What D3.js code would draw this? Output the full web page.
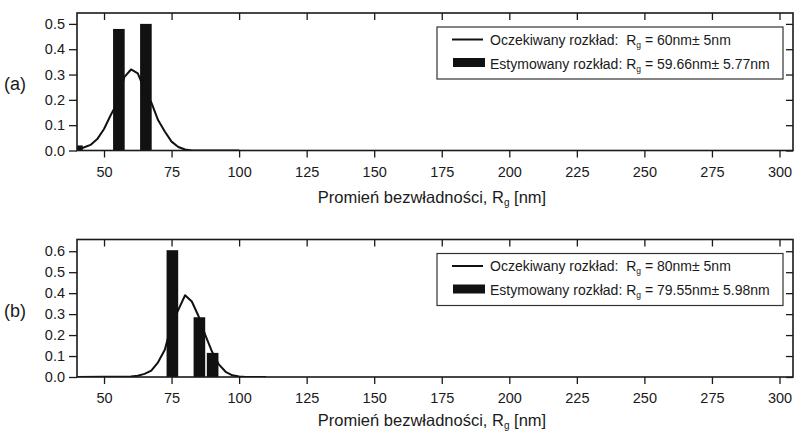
<!DOCTYPE html>
<html>
<head>
<meta charset="utf-8">
<script src="https://cdn.jsdelivr.net/npm/d3@7"></script>
<style>
  body { margin: 0; background: #fff; }
  svg text { font-family: "Liberation Sans", Arial, sans-serif; fill: #1a1a1a; white-space: pre; }
</style>
</head>
<body>
<div id="chart"></div>
<script>
// x axis ticks (shared by both panels)
const xTicks = [50, 75, 100, 125, 150, 175, 200, 225, 250, 275, 300];

// panel (a) data
const barsA_x = [40, 55.5, 65.5];
const barsA_y = [0.02, 0.48, 0.50];
const curveA_x = [40, 42.5, 45, 47.5, 50, 52.5, 55, 57.5, 60, 62.5, 65, 67.5, 70, 72.5, 75, 77.5, 80, 82.5, 100];
const curveA_y = [0.005, 0.012, 0.022, 0.045, 0.085, 0.14, 0.19, 0.29, 0.32, 0.305, 0.24, 0.19, 0.12, 0.075, 0.035, 0.014, 0.004, 0, 0];
const yTicksA = [0.0, 0.1, 0.2, 0.3, 0.4, 0.5];

// panel (b) data
const barsB_x = [75.3, 85.3, 90.2];
const barsB_y = [0.605, 0.285, 0.115];
const curveB_x = [40, 60, 62.5, 65, 67.5, 70, 72.5, 75, 77.5, 80, 82.5, 85, 87.5, 90, 92.5, 95, 97.5, 100, 102.5, 110];
const curveB_y = [0, 0.002, 0.006, 0.015, 0.03, 0.07, 0.13, 0.25, 0.32, 0.39, 0.36, 0.29, 0.2, 0.12, 0.06, 0.025, 0.008, 0.002, 0, 0];
const yTicksB = [0.0, 0.1, 0.2, 0.3, 0.4, 0.5, 0.6];

const W = 796, H = 435;
const barWidth = 4.3; // in nm

const svg = d3.select("#chart").append("svg")
  .attr("width", W).attr("height", H);

const drawPanel = (p) => {
  const left = 77, right = 793, top = p.top, bottom = p.top + 137.5;
  const x = d3.scaleLinear().domain([40, 305]).range([left, right]);
  const y = d3.scaleLinear().domain([0, p.yMax]).range([bottom, top]);

  const g = svg.append("g");
  const clipId = "clip-" + p.name.replace(/\W/g, "");
  g.append("clipPath").attr("id", clipId)
    .append("rect").attr("x", left).attr("y", top).attr("width", right - left).attr("height", bottom - top);

  // bars
  g.append("g").attr("clip-path", `url(#${clipId})`)
    .selectAll("rect")
    .data(p.barsX.map((v, i) => ({x: v, y: p.barsY[i]})))
    .join("rect")
      .attr("x", d => x(d.x - barWidth / 2))
      .attr("y", d => y(d.y))
      .attr("width", d => x(d.x + barWidth / 2) - x(d.x - barWidth / 2))
      .attr("height", d => y(0) - y(d.y))
      .attr("fill", "#111");

  // curve
  const line = d3.line().x(d => x(d[0])).y(d => y(d[1]));
  g.append("path")
    .attr("clip-path", `url(#${clipId})`)
    .datum(p.curveX.map((v, i) => [v, p.curveY[i]]))
    .attr("d", line)
    .attr("fill", "none")
    .attr("stroke", "#111")
    .attr("stroke-width", 2)
    .attr("stroke-linejoin", "round");

  const minorX = d3.range(40, 306, 5).filter(v => v % 25 !== 0);
  const minorY = d3.range(0.05, p.yMax, 0.1);

  // bottom axis (outward ticks)
  const bx = g.append("g").attr("transform", `translate(0,${bottom})`);
  bx.call(d3.axisBottom(x).tickValues(minorX).tickSize(4).tickFormat(""));
  bx.call(d3.axisBottom(x).tickValues(xTicks).tickSize(7).tickPadding(9).tickFormat(d3.format("d")));
  // top axis (inward ticks)
  const tx = g.append("g").attr("transform", `translate(0,${top})`);
  tx.call(d3.axisBottom(x).tickValues(minorX).tickSize(4).tickFormat(""));
  tx.call(d3.axisBottom(x).tickValues(xTicks).tickSize(7).tickFormat(""));
  // left axis (outward ticks)
  const ly = g.append("g").attr("transform", `translate(${left},0)`);
  ly.call(d3.axisLeft(y).tickValues(minorY).tickSize(4).tickFormat(""));
  ly.call(d3.axisLeft(y).tickValues(p.yTicks).tickSize(8).tickPadding(4).tickFormat(d3.format(".1f")));
  // right axis (inward ticks)
  const ry = g.append("g").attr("transform", `translate(${right},0)`);
  ry.call(d3.axisLeft(y).tickValues(minorY).tickSize(4).tickFormat(""));
  ry.call(d3.axisLeft(y).tickValues(p.yTicks).tickSize(7).tickFormat(""));

  g.selectAll(".domain").remove();
  g.selectAll(".tick line").attr("stroke", "#1a1a1a").attr("stroke-width", 1.3);
  g.selectAll(".tick text").attr("font-size", 14.5).attr("fill", "#1a1a1a")
    .style("font-family", '"Liberation Sans", Arial, sans-serif');

  // frame
  g.append("rect")
    .attr("x", left).attr("y", top).attr("width", right - left).attr("height", bottom - top)
    .attr("fill", "none").attr("stroke", "#1a1a1a").attr("stroke-width", 1.6);

  // panel label
  g.append("text").attr("x", 4).attr("y", top + 77).attr("font-size", 18).text(p.name);

  // x axis title
  const t = g.append("text").attr("x", 432).attr("y", bottom + p.titleOffset)
    .attr("text-anchor", "middle").attr("font-size", 16.5);
  t.append("tspan").text("Promień bezwładności, R");
  t.append("tspan").attr("font-size", 10).attr("dy", 3).text("g");
  t.append("tspan").attr("dy", -3).text(" [nm]");

  // legend
  const lg = g.append("g").attr("transform", `translate(437,${top + 14})`);
  lg.append("rect").attr("width", 346).attr("height", 52)
    .attr("fill", "#fff").attr("stroke", "#333").attr("stroke-width", 1.2);
  lg.append("line").attr("x1", 15).attr("x2", 46).attr("y1", 12.5).attr("y2", 12.5)
    .attr("stroke", "#111").attr("stroke-width", 2);
  lg.append("rect").attr("x", 16).attr("y", 31).attr("width", 32).attr("height", 9).attr("fill", "#111");
  p.legend.forEach((row, i) => {
    const tt = lg.append("text").attr("x", 53).attr("y", 17.5 + i * 24).attr("font-size", 14);
    tt.append("tspan").text(row[0]);
    tt.append("tspan").attr("font-size", 8.5).attr("dy", 3).text("g");
    tt.append("tspan").attr("dy", -3).text(row[1]);
  });
};

drawPanel({
  name: "(a)", top: 13, yMax: 0.543, yTicks: yTicksA, titleOffset: 52,
  barsX: barsA_x, barsY: barsA_y, curveX: curveA_x, curveY: curveA_y,
  legend: [["Oczekiwany rozkład:  R", " = 60nm\u00b1 5nm"], ["Estymowany rozkład: R", " = 59.66nm\u00b1 5.77nm"]]
});
drawPanel({
  name: "(b)", top: 239.5, yMax: 0.656, yTicks: yTicksB, titleOffset: 49,
  barsX: barsB_x, barsY: barsB_y, curveX: curveB_x, curveY: curveB_y,
  legend: [["Oczekiwany rozkład:  R", " = 80nm\u00b1 5nm"], ["Estymowany rozkład: R", " = 79.55nm\u00b1 5.98nm"]]
});
</script>
</body>
</html>
